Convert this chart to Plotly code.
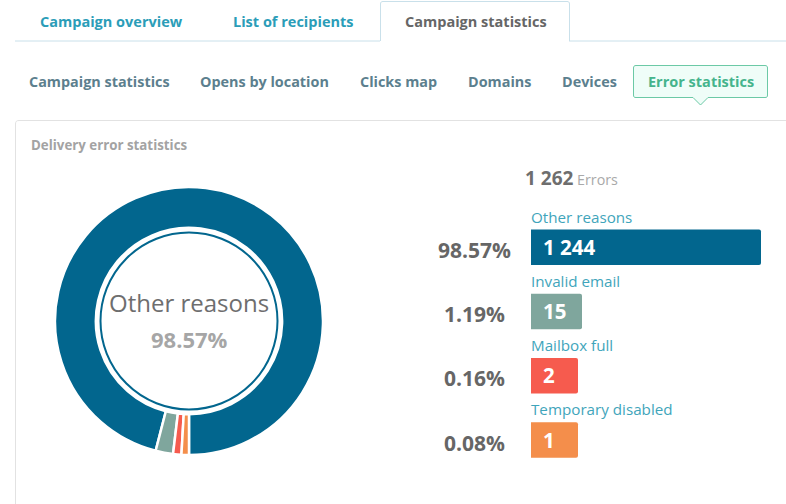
import plotly.graph_objects as go

W, H = 786, 504

# data
reasons = ['Other reasons', 'Invalid email', 'Mailbox full', 'Temporary disabled']
counts = ['1 244', '15', '2', '1']
percents = ['98.57%', '1.19%', '0.16%', '0.08%']
colors = ['#02668e', '#7fa69d', '#f65b4e', '#f48e4b']
# the donut and the bars give small reasons a minimum size, so these are as drawn
slice_shares = [96.0, 2.1, 1.0, 0.9]
bar_lengths = [230, 51, 47, 47]
total_errors = '1 262'

main_tabs = ['Campaign overview', 'List of recipients', 'Campaign statistics']
sub_tabs = ['Campaign statistics', 'Opens by location', 'Clicks map', 'Domains', 'Devices', 'Error statistics']

FONT = 'Open Sans'
TEAL = '#2b9db8'


def px(x):
    return x / W


def py(y):
    return 1 - y / H


def label(x, y, text, size, color, bold=False, anchor='left'):
    fig.add_annotation(
        x=px(x), y=py(y), xref='paper', yref='paper', text=f'<b>{text}</b>' if bold else text,
        showarrow=False, xanchor=anchor, yanchor='middle', align=anchor,
        font=dict(family=FONT, size=size, color=color),
        borderpad=0, borderwidth=0,
    )


def line(x0, y0, x1, y1, color):
    fig.add_shape(type='line', xref='paper', yref='paper', x0=px(x0), y0=py(y0), x1=px(x1), y1=py(y1),
                  line=dict(color=color, width=1), layer='below')


def outline(points, color, fill=None, closed=False):
    # path in paper pixels, C entries carry both control points and the end point
    d = ''
    for p in points:
        d += f'{p[0]} {px(p[1])},{py(p[2])} '
        if len(p) > 3:
            d += f'{px(p[3])},{py(p[4])} {px(p[5])},{py(p[6])} '
    if closed:
        d += 'Z'
    fig.add_shape(type='path', xref='paper', yref='paper', path=d.strip(), layer='below',
                  line=dict(color=color, width=1), fillcolor=fill or 'rgba(0,0,0,0)')


fig = go.Figure()

# donut
fig.add_trace(go.Pie(
    labels=reasons,
    values=slice_shares,
    sort=False,
    direction='counterclockwise',
    rotation=194.4,
    hole=0.695,
    textinfo='none',
    showlegend=False,
    marker=dict(colors=colors, line=dict(color='white', width=2.5)),
    domain=dict(x=[px(55), px(323)], y=[py(455), py(187)]),
))

# bars
fig.add_trace(go.Bar(
    x=bar_lengths,
    y=reasons,
    orientation='h',
    marker=dict(color=colors, line=dict(width=0)),
    width=0.553,
    showlegend=False,
    xaxis='x',
    yaxis='y',
))

fig.update_layout(
    width=W, height=H,
    margin=dict(l=0, r=0, t=0, b=0),
    paper_bgcolor='white',
    plot_bgcolor='rgba(0,0,0,0)',
    barcornerradius=2,
    xaxis=dict(domain=[px(531), 1], range=[0, 255], visible=False, fixedrange=True),
    yaxis=dict(domain=[py(472), py(215.2)], range=[3.5, -0.5], visible=False, type='category',
               categoryorder='array', categoryarray=reasons, fixedrange=True),
)

# tab strip
line(15, 41, 380, 41, '#c9e0ea')
line(569, 41, 786, 41, '#c9e0ea')
outline([('M', 380.5, 41), ('L', 380.5, 4), ('C', 380.5, 2, 381.5, 1.5, 383, 1.5), ('L', 567, 1.5),
         ('C', 568.5, 1.5, 569.5, 2, 569.5, 4), ('L', 569.5, 41)], '#c9e0ea')
label(111, 22, main_tabs[0], 14.5, TEAL, bold=True, anchor='center')
label(293, 22, main_tabs[1], 14.5, TEAL, bold=True, anchor='center')
label(475.5, 22, main_tabs[2], 14.5, '#666666', bold=True, anchor='center')

# second row of tabs
sub_x = [99.5, 264, 398.5, 499.5, 589]
for name, x in zip(sub_tabs[:5], sub_x):
    label(x, 81.5, name, 14.4, '#5c7f8e', bold=True, anchor='center')
outline([('M', 636, 65.5), ('L', 765, 65.5), ('C', 767, 65.5, 767.5, 66.5, 767.5, 68), ('L', 767.5, 95),
         ('C', 767.5, 97, 767, 97.5, 765, 97.5), ('L', 708, 97.5), ('L', 700.5, 105), ('L', 693, 97.5),
         ('L', 636, 97.5), ('C', 634, 97.5, 633.5, 97, 633.5, 95), ('L', 633.5, 68),
         ('C', 633.5, 66.5, 634, 65.5, 636, 65.5)], '#6cc9a6', fill='#effdf8', closed=True)
label(701, 81.5, sub_tabs[5], 14.5, '#45b48c', bold=True, anchor='center')

# card
outline([('M', 15.5, 504), ('L', 15.5, 124), ('C', 15.5, 121.5, 16.5, 120.5, 19, 120.5), ('L', 786, 120.5)], '#e2e2e2')
label(31, 145, 'Delivery error statistics', 13.3, '#a3a3a3', bold=True)

# thin ring and text inside the donut
fig.add_shape(type='circle', xref='paper', yref='paper', x0=px(100.5), x1=px(277.5), y0=py(409.5), y1=py(232.5),
              line=dict(color=colors[0], width=2))
label(189, 302.5, reasons[0], 24, '#6e6e6e', anchor='center')
label(189, 339, percents[0], 22, '#a6a6a6', bold=True, anchor='center')

# total
label(525, 177.5, total_errors, 19, '#6e6e6e', bold=True)
label(577, 179, 'Errors', 14.3, '#a9a9a9')

# rows next to the bars
row_y = [247.5, 311.5, 375.5, 440]
for name, count, pct, y in zip(reasons, counts, percents, row_y):
    label(531, y - 31, name, 15.2, '#3fa5bb')
    label(543, y - 0.5, count, 20.5, 'white', bold=True)
    label(474.5, y + 2.5, pct, 21, '#666666', bold=True, anchor='center')

# page body has a default margin, the chart should sit flush with the window
fig.write_html("out.html", config=dict(displayModeBar=False),
               post_script="document.body.style.margin='0';document.documentElement.style.overflow='hidden';")
